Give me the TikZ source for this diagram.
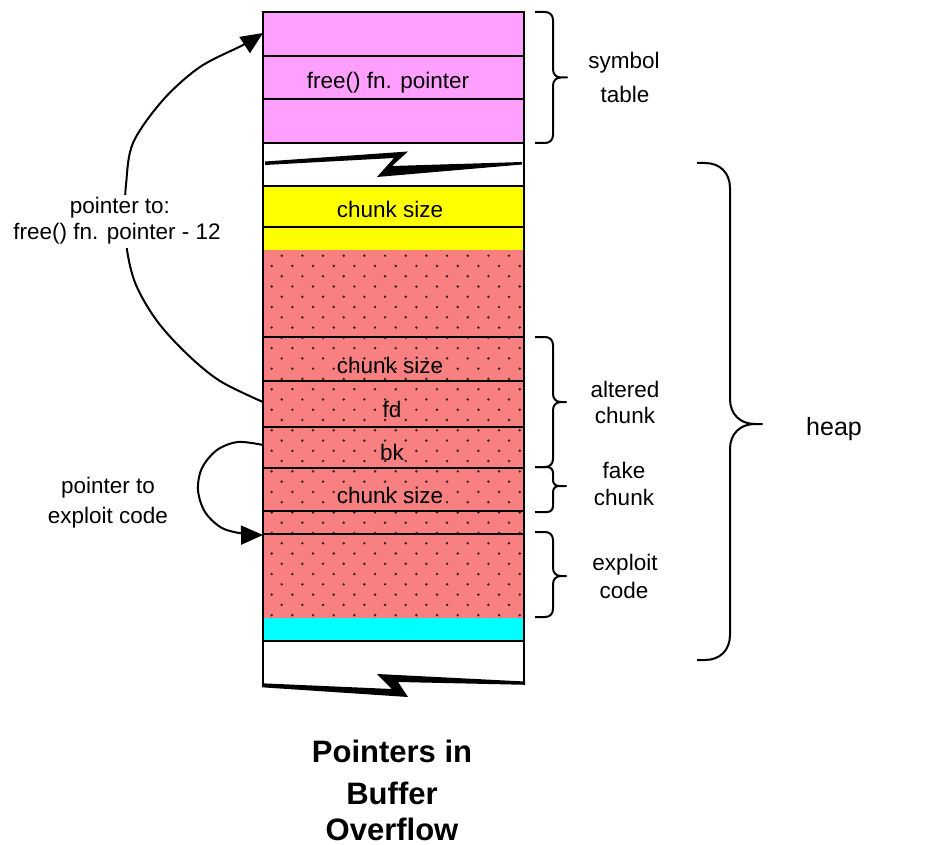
\documentclass[tikz,border=0pt]{standalone}
\usepackage{fontspec}
\setmainfont{Liberation Sans}
\usetikzlibrary{arrows.meta}
\definecolor{symPink}{RGB}{255,160,255}
\definecolor{heapRed}{RGB}{248,128,128}
\definecolor{chunkYellow}{RGB}{255,255,0}
\definecolor{topCyan}{RGB}{0,255,255}
\definecolor{dotGrey}{RGB}{50,30,30}
\tikzset{
  boxline/.style={line width=2pt},
  braceline/.style={line width=2pt, line join=round},
  ptr/.style={line width=2pt, -{Triangle[length=22pt,width=19pt]}},
  lbl/.style={font=\fontsize{22.5pt}{27pt}\selectfont, inner sep=0pt, anchor=base},
  heaplbl/.style={font=\fontsize{25pt}{30pt}\selectfont, inner sep=0pt, anchor=base},
  ttl/.style={font=\fontsize{31pt}{36pt}\selectfont\bfseries, inner sep=0pt, anchor=base},
  cutlbl/.style={lbl, fill=white, inner sep=3pt}
}
% #1 x0, #2 ytop, #3 ybot, #4 xv, #5 xtip, #6 r, #7 ymid
\newcommand\curlybrace[7]{%
  \draw[braceline] (#1,#2) -- ({#4-#6},#2) .. controls ({#4-#6*0.4},#2) and (#4,{#2+#6*0.4}) .. (#4,{#2+#6})
    -- (#4,{#7-#6}) .. controls (#4,{#7-#6*0.4}) and ({#4+#6*0.4},#7) .. ({#4+#6},#7) -- (#5,#7)
    -- ({#4+#6},#7) .. controls ({#4+#6*0.4},#7) and (#4,{#7+#6*0.4}) .. (#4,{#7+#6})
    -- (#4,{#3-#6}) .. controls (#4,{#3-#6*0.4}) and ({#4-#6*0.4},#3) .. ({#4-#6},#3) -- (#1,#3);}
\begin{document}
\begin{tikzpicture}[x=1pt,y=-1pt]
\useasboundingbox (0,0) rectangle (948,845);
\fill[white] (0,0) rectangle (948,845);
% fills
\fill[symPink] (263,12) rectangle (524,143);
\fill[chunkYellow] (263,186) rectangle (524,250);
\fill[heapRed] (263,250) rectangle (524,618);
\fill[topCyan] (263,618) rectangle (524,641);
% dots
\foreach \r in {0,...,35}{
  \pgfmathsetmacro\yy{255.7+\r*10.27}
  \pgfmathtruncatemacro\odd{mod(\r,2)}
  \ifnum\odd=0
    \foreach \c in {0,...,11}{\fill[dotGrey] ({281.7+\c*20.67},\yy) circle (1.35pt);}
  \else
    \foreach \c in {0,...,12}{\fill[dotGrey] ({271.7+\c*20.67},\yy) circle (1.35pt);}
  \fi
}
% row lines
\foreach \yl in {12,56,99,143,186,227,337,381,427,468,511,534,641}{
  \draw[boxline] (263,\yl) -- (524,\yl);
}
\draw[boxline] (263,11) -- (263,686);
\draw[boxline] (524,11) -- (524,684);
% break marks
\fill[black] (265,161.5) -- (408,151.5) -- (392,166) -- (522,162) -- (522,164.5) -- (377,177) -- (394,158) -- (265,165) -- cycle;
\fill[black] (262,683.3) -- (392,689) -- (377,674) -- (525,681.5) -- (525,684.8) -- (398,682) -- (408,697) -- (262,687.3) -- cycle;
% anchor coordinates on the column
\coordinate (symL) at (263,33);
\coordinate (fdL) at (263,402);
\coordinate (bkL) at (263,445);
\coordinate (exploitL) at (263,535);
% cell labels
\node[lbl] (fptr) at (388,89) {free() fn. pointer};
\node[lbl] (ycs) at (390,218) {chunk size};
\node[lbl] (rcs1) at (390,373) {chunk size};
\node[lbl] (fd) at (392,417) {fd};
\node[lbl] (bk) at (392,460) {bk};
\node[lbl] (rcs2) at (390,503) {chunk size};
% braces
\curlybrace{535}{12}{143}{553}{567}{8}{77.5}
\curlybrace{535}{337}{467}{553}{566}{8}{402}
\curlybrace{535}{467}{512}{553}{566}{6}{486}
\curlybrace{535}{532}{617}{553}{566}{8}{576}
\curlybrace{697}{163}{660}{730}{762}{25}{424}
% right labels
\node[lbl] (sym1) at (624,69) {symbol};
\node[lbl] (sym2) at (625,103) {table};
\node[lbl] (alt1) at (625,397) {altered};
\node[lbl] (alt2) at (625,423) {chunk};
\node[lbl] (fake1) at (624,478) {fake};
\node[lbl] (fake2) at (624,505) {chunk};
\node[lbl] (exp1) at (625,570) {exploit};
\node[lbl] (exp2) at (624,598) {code};
\node[heaplbl] (heap) at (834,435) {heap};
% pointer arrows
\draw[ptr] plot[smooth, tension=0.55] coordinates {(fdL) (220,381) (187,354) (157,321) (136,285) (127,250) (125,215) (126,185) (133,143) (163,100) (200,67) (243,45) (symL)};
\draw[ptr] plot[smooth, tension=0.55] coordinates {(bkL) (238,442) (217,450) (202,468) (198,490) (205,512) (222,528) (245,534) (exploitL)};
% left labels
\node[cutlbl] (p1a) at (120,214) {pointer to:};
\node[cutlbl] (p1b) at (117,240) {free() fn. pointer - 12};
\node[lbl] (p2a) at (108,493) {pointer to};
\node[lbl] (p2b) at (108,523) {exploit code};
% title
\node[ttl] (t1) at (392,762) {Pointers in};
\node[ttl] (t2) at (392,804) {Buffer};
\node[ttl] (t3) at (392,840) {Overflow};
\end{tikzpicture}
\end{document}
